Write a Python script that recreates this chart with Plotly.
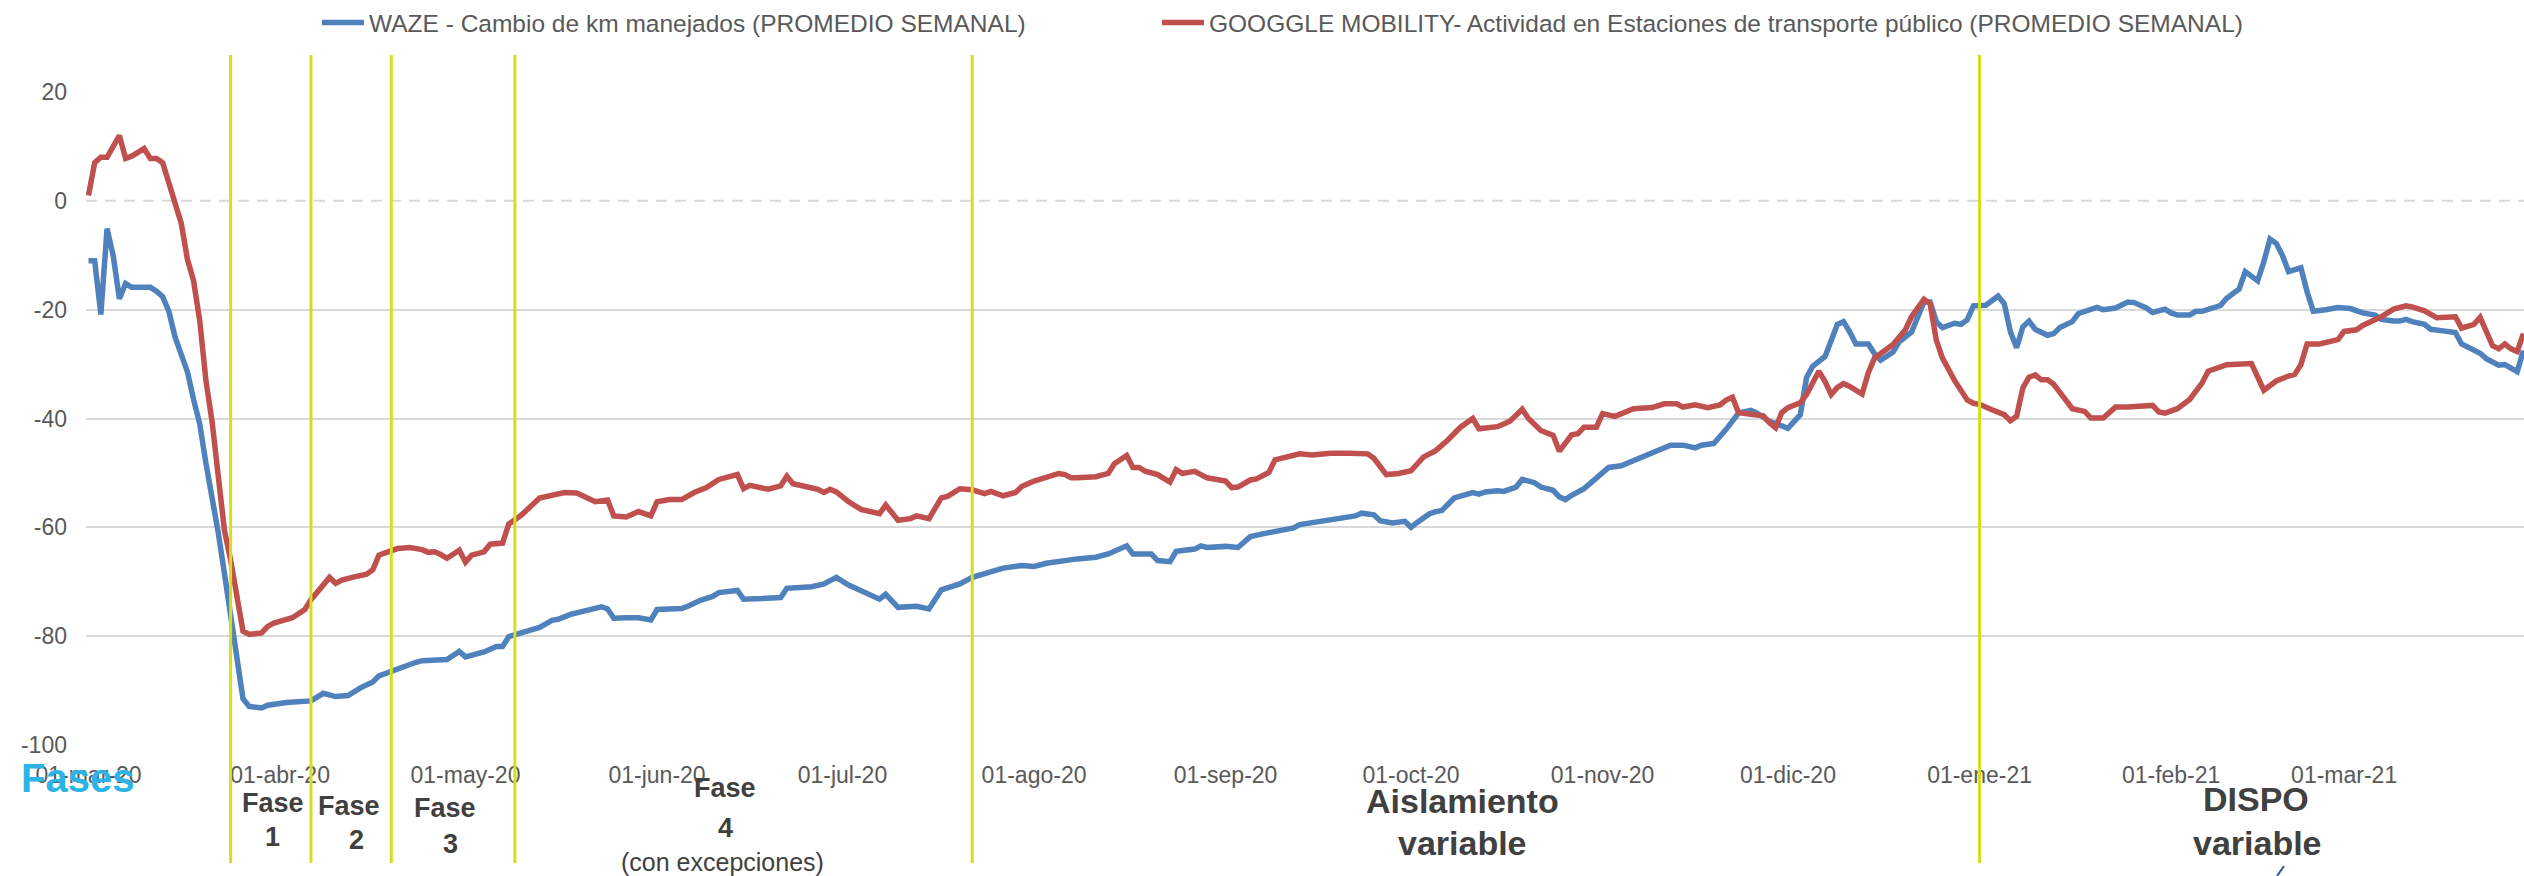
import pandas as pd
import plotly.graph_objects as go

# ---------------- data (days counted from 01-mar-2020) ----------------
START = "2020-03-01"

WAZE_DAYS = [0, 1, 2, 3, 4, 5, 6, 7, 10, 11, 12, 13, 14, 15, 16, 17, 18, 19, 20, 21, 22, 23, 24, 25, 26, 28, 29, 32,
             36, 37, 38, 40, 42, 44, 46, 47, 49, 51, 53, 54, 58, 60, 61, 64, 66, 67, 68, 70, 73, 75, 76, 78, 80, 82,
             83, 84, 85, 87, 89, 91, 92, 94, 96, 97, 99, 101, 102, 105, 106, 109, 112, 113, 115, 117, 119, 121, 123,
             125, 126, 128, 129, 131, 134, 136, 138, 141, 143, 146, 148, 151, 153, 155, 159, 160, 163, 165, 168, 169,
             172, 173, 175, 176, 179, 180, 181, 184, 186, 188, 190, 193, 195, 196, 198, 201, 203, 205, 206, 208, 209,
             211, 213, 214, 215, 217, 218, 219, 221, 224, 225, 226, 228, 229, 231, 232, 234, 235, 237, 238, 239, 240,
             242, 243, 245, 246, 248, 250, 253, 256, 258, 260, 261, 263, 265, 267, 269, 270, 272, 275, 277, 278, 279,
             281, 283, 284, 285, 286, 288, 289, 290, 292, 293, 295, 297, 298, 299, 300, 302, 303, 304, 305, 307, 308,
             309, 310, 311, 312, 313, 314, 315, 317, 318, 319, 321, 322, 325, 326, 328, 330, 331, 333, 334, 336, 337,
             338, 340, 341, 342, 344, 345, 346, 348, 349, 351, 352, 353, 354, 355, 356, 358, 359, 360, 362, 364, 366,
             368, 370, 371, 373, 374, 375, 376, 378, 379, 381, 383, 384, 386, 387, 388, 390, 391, 392, 393, 394]
WAZE = [-11, -11, -20.9, -5.1, -10.1, -18, -15.2, -15.9, -15.9, -16.6, -17.6, -20.3, -25, -28, -31.4, -36.5, -41,
        -48.2, -54, -61, -68.5, -76.4, -84.5, -91.5, -92.9, -93.2, -92.7, -92.2, -91.9, -91.2, -90.5, -91.1, -90.9,
        -89.5, -88.4, -87.3, -86.4, -85.5, -84.8, -84.5, -84.3, -82.8, -83.8, -82.9, -81.9, -81.9, -80.1, -79.4,
        -78.4, -77.1, -76.9, -76, -75.4, -74.9, -74.6, -75, -76.7, -76.6, -76.6, -77, -75.1, -75, -74.9, -74.5,
        -73.4, -72.7, -72, -71.6, -73.2, -73.1, -72.9, -71.2, -71.1, -70.9, -70.4, -69.2, -70.6, -71.7, -72.1,
        -73.2, -72.3, -74.7, -74.5, -75, -71.5, -70.4, -69.2, -68.1, -67.5, -67, -67.2, -66.6, -65.8, -65.8,
        -65.5, -64.9, -63.4, -64.9, -64.9, -66.1, -66.3, -64.4, -64, -63.4, -63.7, -63.5, -63.7, -61.7, -61.2,
        -60.5, -60.1, -59.5, -59.2, -58.6, -58.2, -57.9, -57.4, -57.7, -58.8, -59.2, -58.9, -60, -59.1, -57.5,
        -57.1, -56.9, -54.6, -53.6, -53.9, -53.5, -53.3, -53.4, -52.6, -51.2, -51.8, -52.6, -53.2, -54.4, -54.9,
        -54.1, -52.9, -51.9, -49.8, -49, -48.7, -47.8, -46.3, -44.9, -44.9, -45.4, -44.9, -44.6, -42, -39, -38.5,
        -39, -40.5, -41.8, -39.3, -32.5, -30.4, -28.6, -22.7, -22.2, -24.1, -26.3, -26.3, -28.1, -29.3, -27.8,
        -25.9, -24.1, -18.6, -18.6, -22.2, -23.3, -22.5, -22.7, -21.9, -19.3, -19.2, -18.3, -17.5, -18.9, -24.1,
        -27, -23.2, -22.1, -23.6, -24.7, -24.4, -23.3, -22.2, -20.7, -19.6, -20, -19.7, -18.6, -18.7, -19.7, -20.5,
        -19.9, -20.6, -21, -21, -20.3, -20.3, -19.6, -19.2, -17.9, -16.2, -13, -14.7, -11.2, -7, -7.8, -10, -13,
        -12.3, -16.7, -20.3, -20, -19.6, -19.8, -20.6, -21, -21.8, -22.1, -22.1, -21.8, -22.2, -22.7, -23.6, -23.9,
        -24.2, -26.3, -27.6, -28, -29, -30.2, -30.1, -30.8, -31.4, -27.5]

GOOGLE_DAYS = [0, 1, 2, 3, 5, 6, 7, 9, 10, 11, 12, 13, 14, 15, 16, 17, 18, 19, 20, 21, 22, 23, 24, 25, 26, 28, 29, 30,
               33, 35, 36, 38, 39, 40, 41, 43, 45, 46, 47, 48, 50, 52, 54, 55, 56, 57, 58, 60, 61, 62, 64, 65, 67, 68,
               70, 73, 75, 77, 79, 80, 82, 84, 85, 87, 89, 91, 92, 94, 96, 98, 100, 102, 105, 106, 107, 110, 112, 113,
               114, 116, 118, 119, 120, 121, 123, 125, 126, 128, 129, 131, 133, 134, 136, 138, 139, 141, 143, 145, 146,
               148, 150, 151, 153, 155, 157, 158, 159, 160, 163, 165, 166, 168, 169, 170, 171, 173, 175, 176, 177, 179,
               181, 184, 185, 186, 188, 189, 191, 192, 194, 195, 196, 198, 201, 204, 207, 208, 210, 212, 214, 216, 218,
               220, 221, 222, 224, 225, 228, 230, 232, 233, 235, 237, 238, 240, 241, 242, 244, 245, 247, 248, 250, 253,
               255, 257, 258, 260, 262, 264, 265, 266, 267, 269, 271, 272, 273, 274, 275, 277, 278, 280, 281, 282, 283,
               284, 285, 287, 288, 289, 290, 292, 294, 295, 297, 298, 299, 300, 302, 304, 305, 306, 308, 310, 311, 312,
               313, 314, 315, 316, 317, 318, 319, 321, 323, 324, 326, 328, 330, 332, 334, 335, 336, 338, 340, 342, 343,
               346, 348, 350, 352, 354, 356, 357, 358, 359, 361, 364, 365, 367, 368, 371, 373, 375, 376, 378, 380, 383,
               384, 386, 387, 389, 390, 391, 392, 393, 394]
GOOGLE = [1.0, 7.0, 8.0, 8.0, 12.0, 7.8, 8.2, 9.6, 7.8, 7.8, 7.0, 3.3, 0.4, -4.1, -10.7, -14.7, -22, -33, -40.6, -50.4,
          -60.6, -66, -72, -79.1, -79.7, -79.4, -78.2, -77.6, -76.6, -75.1, -73.3, -70.5, -69.2, -70.3, -69.7, -69.1,
          -68.6, -67.8, -65.1, -64.7, -63.9, -63.7, -64.1, -64.6, -64.5, -65, -65.7, -64.2, -66.4, -65.1, -64.5,
          -63.1, -62.9, -59.4, -57.8, -54.6, -54.2, -53.6, -53.7, -54.2, -55.3, -55, -57.9, -58.1, -57.1, -57.9,
          -55.3, -54.9, -54.9, -53.6, -52.7, -51.2, -50.3, -52.9, -52.3, -53, -52.4, -50.6, -52, -52.5, -53, -53.6,
          -53, -53.5, -55.3, -56.7, -57, -57.5, -55.9, -58.7, -58.4, -57.9, -58.4, -54.6, -54.3, -52.9, -53.1, -53.8,
          -53.4, -54.2, -53.6, -52.5, -51.5, -50.9, -50.1, -50.3, -50.9, -50.9, -50.7, -50.1, -48.3, -46.8, -49, -49,
          -49.7, -50.3, -51.7, -49.4, -50.1, -49.7, -50.9, -51.5, -52.7, -52.6, -51.3, -51.1, -49.9, -47.6, -47.1,
          -47, -46.5, -46.7, -46.4, -46.4, -46.5, -47.3, -50.3, -50.1, -49.6, -47.1, -45.9, -43.9, -42.7, -41.6, -40,
          -41.9, -41.5, -40.5, -38.3, -40, -42.2, -43.1, -46, -43, -42.8, -41.6, -41.6, -39.1, -39.6, -39.2, -38.2,
          -38, -37.3, -37.3, -37.9, -37.5, -38, -37.5, -36.6, -36.1, -38.9, -39.2, -39.5, -40.8, -41.7, -38.9, -38,
          -37.1, -35.6, -31.3, -33.2, -35.6, -34.3, -33.6, -34.1, -35.5, -31.6, -28.9, -28, -26.4, -23.7, -21.3,
          -18.1, -18.9, -25.6, -28.9, -33.1, -36.6, -37.2, -37.4, -38.4, -39.3, -40.4, -39.6, -34.4, -32.4, -32,
          -32.9, -32.9, -33.7, -35.2, -38.2, -38.7, -39.9, -39.9, -37.9, -37.9, -37.8, -37.6, -38.8, -39, -38.2,
          -36.5, -33.5, -31.3, -30.1, -30, -29.9, -34.8, -33.1, -32.2, -31.9, -30.1, -26.3, -26.3, -25.5, -24,
          -23.7, -22.9, -21.3, -19.9, -19.3, -19.5, -20.2, -21.5, -21.3, -23.4, -22.7, -21.4, -26.6, -27.2, -26.3,
          -27.2, -27.7, -24.4]

SERIES_NAMES = ["WAZE - Cambio de km manejados (PROMEDIO SEMANAL)",
                "GOOGGLE MOBILITY- Actividad en Estaciones de transporte público (PROMEDIO SEMANAL)"]

PHASE_DATES = ["2020-03-24", "2020-04-06", "2020-04-19", "2020-05-09", "2020-07-22", "2021-01-01"]

TICK_DATES = ["2020-03-01", "2020-04-01", "2020-05-01", "2020-06-01", "2020-07-01", "2020-08-01", "2020-09-01",
              "2020-10-01", "2020-11-01", "2020-12-01", "2021-01-01", "2021-02-01", "2021-03-01"]
TICK_LABELS = ["01-mar-20", "01-abr-20", "01-may-20", "01-jun-20", "01-jul-20", "01-ago-20", "01-sep-20",
               "01-oct-20", "01-nov-20", "01-dic-20", "01-ene-21", "01-feb-21", "01-mar-21"]
Y_TICKS = [-100, -80, -60, -40, -20, 0, 20]
Y_LABELS = ["-100", "-80", "-60", "-40", "-20", "0", "20"]

# ---------------- figure ----------------
start = pd.Timestamp(START)
waze_x = [start + pd.Timedelta(days=d) for d in WAZE_DAYS]
google_x = [start + pd.Timedelta(days=d) for d in GOOGLE_DAYS]

W, H = 2524, 876
L, R, T, B = 86, 0, 92, 131
PW, PH = W - L - R, H - T - B

def px(x):
    return (x - L) / PW

def py(y):
    return (H - B - y) / PH

FONT = "Liberation Sans, Arial, sans-serif"
GRAY = "#595959"
DARK = "#404040"

fig = go.Figure()
fig.add_trace(go.Scatter(x=waze_x, y=WAZE, mode="lines", name=SERIES_NAMES[0],
                         line=dict(color="#4F81BD", width=5.5), legend="legend"))
fig.add_trace(go.Scatter(x=google_x, y=GOOGLE, mode="lines", name=SERIES_NAMES[1],
                         line=dict(color="#C0504D", width=5.5), legend="legend2"))

shapes = []
# dashed zero line
shapes.append(dict(type="line", xref="paper", yref="y", x0=0, x1=1, y0=0, y1=0, layer="below",
                   line=dict(color="#D9D9D9", width=2, dash="11px,8px")))
# phase separators
for d in PHASE_DATES:
    shapes.append(dict(type="line", xref="x", yref="paper", x0=d, x1=d, y0=py(863), y1=py(55),
                       layer="above", line=dict(color="#D6DF1E", width=3)))
# small stroke at the bottom right
shapes.append(dict(type="line", xref="paper", yref="paper", x0=px(2277), x1=px(2284), y0=py(876), y1=py(866),
                   line=dict(color="#2E5597", width=2)))

ann = []
def add_text(text, x, y, size, bold=True, color=DARK):
    ann.append(dict(text=f"<b>{text}</b>" if bold else text, xref="paper", yref="paper",
                    x=px(x), y=py(y), xanchor="center", yanchor="middle", showarrow=False,
                    font=dict(family=FONT, size=size, color=color)))

add_text("Fases", 77, 778, 40, True, "#2DB4E6")
add_text("Fase", 273, 803, 27)
add_text("1", 272, 837, 27)
add_text("Fase", 349, 806, 27)
add_text("2", 356, 840, 27)
add_text("Fase", 445, 808, 27)
add_text("3", 450, 844, 27)
add_text("Fase", 725, 788, 27)
add_text("4", 725, 828, 27)
add_text("(con excepciones)", 722, 862, 25, False)
add_text("Aislamiento", 1462, 801, 34)
add_text("variable", 1462, 843, 34)
add_text("DISPO", 2256, 799, 34)
add_text("variable", 2257, 843, 34)

legend_common = dict(orientation="h", yanchor="middle", xanchor="left",
                     font=dict(family=FONT, size=24.5, color=GRAY),
                     bgcolor="rgba(0,0,0,0)", borderwidth=0, itemwidth=42)

fig.update_layout(
    width=W, height=H, autosize=False,
    margin=dict(l=L, r=R, t=T, b=B, pad=0),
    paper_bgcolor="white", plot_bgcolor="white",
    font=dict(family=FONT, color=GRAY),
    showlegend=True,
    legend=dict(x=px(317), y=py(22), **legend_common),
    legend2=dict(x=px(1157), y=py(22), **legend_common),
    xaxis=dict(type="date", range=["2020-02-29 14:17", "2021-03-30 02:24"],
               tickvals=TICK_DATES, ticktext=TICK_LABELS, tickangle=0,
               showgrid=False, zeroline=False, showline=False, ticks="",
               tickfont=dict(family=FONT, size=23, color=GRAY), ticklabelstandoff=14),
    yaxis=dict(range=[-100, 20], tickvals=Y_TICKS, ticktext=Y_LABELS, showgrid=True, gridcolor="#D9D9D9",
               gridwidth=2, zeroline=True, zerolinecolor="rgba(0,0,0,0)", zerolinewidth=1, showline=False,
               ticks="", tickfont=dict(family=FONT, size=23, color=GRAY), ticklabelstandoff=18),
    shapes=shapes,
    annotations=ann,
)

fig.write_html("out.html", config={"displayModeBar": False},
               post_script="document.body.style.margin='0px';")
